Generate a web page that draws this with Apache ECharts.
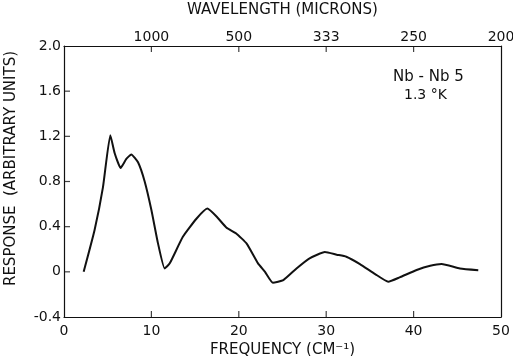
<!DOCTYPE html>
<html>
<head>
<meta charset="utf-8">
<script src="https://cdn.jsdelivr.net/npm/echarts@6/dist/echarts.min.js"></script>
<style>
  html, body { margin: 0; padding: 0; background: #fff; }
  #chart { width: 513px; height: 356px; }
</style>
</head>
<body>
<div id="chart"></div>
<script>
// frequency (cm^-1) and response
var freq = [2.25, 3.5, 4.46, 5.3, 5.8, 6.48, 7.13, 7.7, 8.47, 9.23, 10.0, 10.76, 11.52, 12.1,
  13.6, 15.15, 16.4, 17.45, 18.6, 19.7, 20.9, 22.2, 23.0, 23.9, 25.1, 26.6, 28.1, 29.85,
  31.2, 32.3, 33.86, 35.6, 37.1, 38.4, 40.35, 41.9, 43.2, 45.3, 47.4];
var response = [0.0, 0.37, 0.75, 1.21, 1.05, 0.92, 1.0, 1.04, 0.97, 0.80, 0.547, 0.25, 0.03, 0.075,
  0.31, 0.47, 0.56, 0.49, 0.39, 0.34, 0.25, 0.075, 0.0, -0.096, -0.073, 0.03, 0.12, 0.175,
  0.152, 0.134, 0.069, -0.02, -0.087, -0.049, 0.016, 0.054, 0.07, 0.03, 0.015];

// top axis: wavelength in microns at each frequency tick
var waveTicks = [10, 20, 30, 40, 50];
var waveLabels = ['1000', '500', '333', '250', '200'];

// inner tick marks on the frame
var freqTicks = [10, 20, 30, 40];
var respTicks = [0, 0.4, 0.8, 1.2, 1.6];

var font = 'DejaVu Sans';
var ink = '#111';

var points = freq.map(function (f, i) { return [f, response[i]]; });

function frameLine() {
  return { show: true, onZero: false, lineStyle: { color: ink, width: 1.2 } };
}

// axisTick / splitLine draw nothing in this setup, so the ticks are small rect symbols
function tickSeries(data, size, offset) {
  return {
    type: 'scatter',
    data: data,
    symbol: 'rect',
    symbolSize: size,
    symbolOffset: offset,
    clip: false,
    silent: true,
    itemStyle: { color: ink }
  };
}

var chart = echarts.init(document.getElementById('chart'));
chart.setOption({
  backgroundColor: '#fff',
  animation: false,
  grid: { left: 64, right: 12, top: 46, bottom: 39, containLabel: false, outerBoundsMode: 'none' },
  xAxis: [{
    type: 'value',
    min: 0, max: 50, interval: 10,
    name: 'FREQUENCY (CM\u207B\u00B9)',
    nameLocation: 'middle',
    nameGap: 24,
    nameTextStyle: { color: ink, fontFamily: font, fontSize: 15 },
    axisLine: frameLine(),
    axisTick: { show: false },
    axisLabel: { color: ink, fontFamily: font, fontSize: 14, margin: 7 },
    splitLine: { show: false }
  }, {
    type: 'value',
    position: 'top',
    min: 0, max: 50, interval: 10,
    name: 'WAVELENGTH (MICRONS)',
    nameLocation: 'middle',
    nameGap: 28,
    nameTextStyle: { color: ink, fontFamily: font, fontSize: 15 },
    axisLine: frameLine(),
    axisTick: { show: false },
    axisLabel: {
      color: ink, fontFamily: font, fontSize: 14, margin: 2,
      formatter: function (v) {
        var i = waveTicks.indexOf(v);
        return i < 0 ? '' : waveLabels[i];
      }
    },
    splitLine: { show: false }
  }],
  yAxis: [{
    type: 'value',
    min: -0.4, max: 2.0, interval: 0.4,
    name: 'RESPONSE  (ARBITRARY UNITS)',
    nameLocation: 'middle',
    nameGap: 45,
    nameTextStyle: { color: ink, fontFamily: font, fontSize: 15, padding: [0, 0, 0, 26] },
    axisLine: frameLine(),
    axisTick: { show: false },
    axisLabel: {
      color: ink, fontFamily: font, fontSize: 14, margin: 3,
      formatter: function (v) {
        if (Math.abs(v) < 1e-9) return '0';
        return v.toFixed(1);
      }
    },
    splitLine: { show: false }
  }, {
    type: 'value',
    position: 'right',
    min: -0.4, max: 2.0, interval: 0.4,
    axisLine: frameLine(),
    axisTick: { show: false },
    axisLabel: { show: false },
    splitLine: { show: false }
  }],
  graphic: [{
    type: 'text',
    left: 393, top: 70,
    style: { text: 'Nb - Nb 5', fill: ink, font: '15px "' + font + '"' }
  }, {
    type: 'text',
    left: 404, top: 88,
    style: { text: '1.3 \u00B0K', fill: ink, font: '14px "' + font + '"' }
  }],
  series: [{
    type: 'line',
    data: points,
    smooth: 0.15,
    symbol: 'none',
    silent: true,
    lineStyle: { color: ink, width: 2 }
  },
  tickSeries(freqTicks.map(function (f) { return [f, -0.4]; }), [1.2, 6], [0, -3]),
  tickSeries(freqTicks.map(function (f) { return [f, 2.0]; }), [1.2, 6], [0, 3]),
  tickSeries(respTicks.map(function (r) { return [0, r]; }), [6, 1.2], [3, 0])
  ]
});
</script>
</body>
</html>
